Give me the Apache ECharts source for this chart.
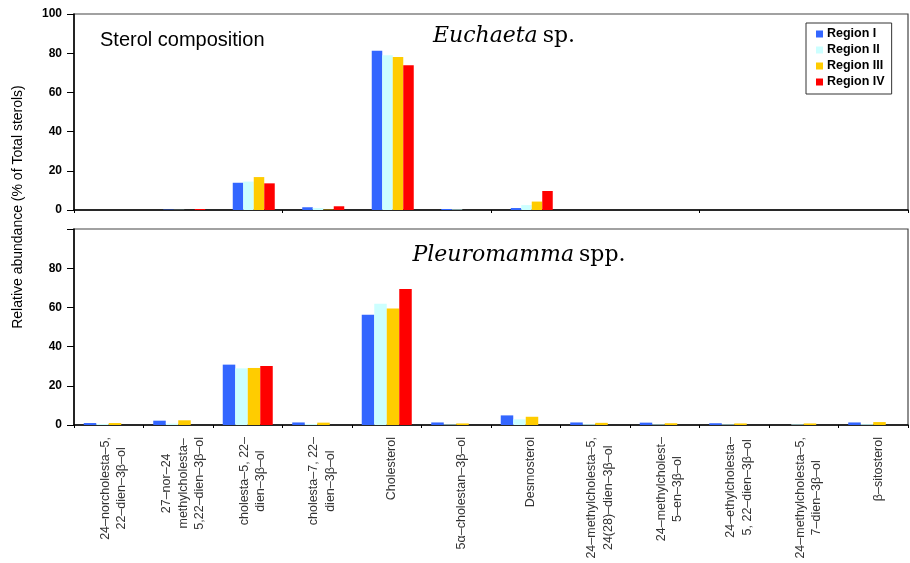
<!DOCTYPE html>
<html>
<head>
<meta charset="utf-8">
<script src="https://cdn.jsdelivr.net/npm/echarts@6/dist/echarts.min.js"></script>
<style>html,body{margin:0;padding:0;background:#fff}#c{width:910px;height:563px}</style>
</head>
<body>
<div id="c"></div>
<script>
const categories = [
  '24–norcholesta–5,\n22–dien–3β–ol',
  '27–nor–24\nmethylcholesta–\n5,22–dien–3β–ol',
  'cholesta–5, 22–\ndien–3β–ol',
  'cholesta–7, 22–\ndien–3β–ol',
  'Cholesterol',
  '5α–cholestan–3β–ol',
  'Desmosterol',
  '24–methylcholesta–5,\n24(28)–dien–3β–ol',
  '24–methylcholest–\n5–en–3β–ol',
  '24–ethylcholesta–\n5, 22–dien–3β–ol',
  '24–methylcholesta–5,\n7–dien–3β–ol',
  'β–sitosterol'
];
const regions = ['Region I', 'Region II', 'Region III', 'Region IV'];
const colors = ['#3366FF', '#CCFFFF', '#FFCC00', '#FF0000'];

// Euchaeta sp.
const euchaetaI   = [0, 0.2, 13.9, 1.4, 81.3, 0.5, 1.0, 0, 0, 0, 0, 0];
const euchaetaII  = [0, 0.1, 14.5, 1.0, 78.9, 0.3, 2.5, 0, 0, 0, 0, 0];
const euchaetaIII = [0, 0, 16.8, 0.2, 78.0, 0, 4.3, 0, 0, 0, 0, 0];
const euchaetaIV  = [0, 0.5, 13.6, 1.9, 73.8, 0, 9.7, 0, 0, 0, 0, 0];

// Pleuromamma spp.
const pleuroI   = [1.0, 2.2, 30.8, 1.3, 56.2, 1.3, 4.9, 1.3, 1.2, 0.9, 0, 1.3];
const pleuroII  = [0.5, 0.7, 28.9, 0.5, 61.8, 0.3, 2.9, 0.4, 0.3, 0.3, 0.3, 0.4];
const pleuroIII = [1.0, 2.4, 29.1, 1.2, 59.4, 0.8, 4.2, 1.1, 0.9, 0.8, 0.8, 1.5];
const pleuroIV  = [0, 0, 30.1, 0, 69.4, 0, 0, 0, 0, 0, 0, 0];

const topData = [euchaetaI, euchaetaII, euchaetaIII, euchaetaIV];
const botData = [pleuroI, pleuroII, pleuroIII, pleuroIV];

const chart = echarts.init(document.getElementById('c'), null, {renderer: 'canvas'});

const yLabel = {color: '#000', fontWeight: 'bold', fontSize: 12, fontFamily: 'Liberation Sans, Arial', margin: 12};
const yAxisCommon = {
  type: 'value', min: 0, max: 100, interval: 20,
  axisLine: {show: true, lineStyle: {color: '#000', width: 1.5}},
  axisTick: {show: true, length: 7, lineStyle: {color: '#000'}},
  splitLine: {show: false},
  axisLabel: yLabel
};
const xAxisCommon = {
  type: 'category', data: categories,
  axisLine: {show: true, lineStyle: {color: '#000', width: 1.5}},
  axisTick: {show: true, length: 3, alignWithLabel: false, lineStyle: {color: '#000'}},
  splitLine: {show: false}
};

const series = [];
// spacer to reproduce the right-shifted bar groups of the upper panel
series.push({type: 'bar', name: 'spacer', xAxisIndex: 0, yAxisIndex: 0, barWidth: 12, barGap: '0%',
  data: categories.map(() => '-'), silent: true, itemStyle: {color: 'transparent'}});
topData.forEach((d, i) => series.push({
  type: 'bar', name: regions[i], xAxisIndex: 0, yAxisIndex: 0, data: d,
  barWidth: 10.5, barGap: '0%', itemStyle: {color: colors[i]}, silent: true
}));
botData.forEach((d, i) => series.push({
  type: 'bar', name: regions[i], xAxisIndex: 1, yAxisIndex: 1, data: d,
  barWidth: 12.5, barGap: '0%', itemStyle: {color: colors[i]}, silent: true
}));

const serif = 'DejaVu Serif, Liberation Serif, serif';

chart.setOption({
  animation: false,
  backgroundColor: '#fff',
  grid: [
    {left: 74, right: 2, top: 14, height: 196, show: true, borderColor: '#444', borderWidth: 1.2, backgroundColor: 'transparent'},
    {left: 74, right: 2, top: 229, height: 196, show: true, borderColor: '#444', borderWidth: 1.2, backgroundColor: 'transparent'}
  ],
  xAxis: [
    Object.assign({}, xAxisCommon, {gridIndex: 0, axisLabel: {show: false}}),
    Object.assign({}, xAxisCommon, {gridIndex: 1, axisLabel: {
      show: true, interval: 0, rotate: 90, margin: 12, color: '#333', fontSize: 12.5,
      lineHeight: 16.5, fontFamily: 'Liberation Sans, Arial', padding: [10, 0, 0, 0],
      formatter: v => v.split('\n').map(l => '{c|' + l + '}').join('\n'),
      rich: {c: {align: 'center', fontSize: 12.5, lineHeight: 16.5, color: '#333', fontFamily: 'Liberation Sans, Arial'}}
    }})
  ],
  yAxis: [
    Object.assign({}, yAxisCommon, {gridIndex: 0}),
    Object.assign({}, yAxisCommon, {gridIndex: 1, axisLabel: Object.assign({}, yLabel, {
      formatter: v => (v === 100 ? '' : String(v))
    })})
  ],
  legend: {
    data: regions.map((r, i) => ({name: r, itemStyle: {color: colors[i]}})),
    orient: 'vertical', left: 806, top: 23,
    itemWidth: 7, itemHeight: 7, itemGap: 2,
    icon: 'rect',
    backgroundColor: '#fff',
    borderColor: '#333', borderWidth: 1,
    padding: [4, 7, 5, 10],
    textStyle: {color: '#000', fontWeight: 'bold', fontSize: 12.5, lineHeight: 14, fontFamily: 'Liberation Sans, Arial', padding: [0, 0, 0, -1]}
  },
  title: [
    {text: '{i|Euchaeta} {n|sp.}', left: 499, top: 31, textAlign: 'center', textVerticalAlign: 'middle',
      textStyle: {fontWeight: 'normal', rich: {
        i: {fontFamily: serif, fontStyle: 'italic', fontWeight: 'normal', fontSize: 22, color: '#000'},
        n: {fontFamily: serif, fontWeight: 'normal', fontSize: 22, color: '#000'}
      }}},
    {text: '{i|Pleuromamma} {n|spp.}', left: 514, top: 250, textAlign: 'center', textVerticalAlign: 'middle',
      textStyle: {fontWeight: 'normal', rich: {
        i: {fontFamily: serif, fontStyle: 'italic', fontWeight: 'normal', fontSize: 22, color: '#000'},
        n: {fontFamily: serif, fontWeight: 'normal', fontSize: 22, color: '#000'}
      }}}
  ],
  graphic: [
    {type: 'text', left: 100, top: 30, style: {text: 'Sterol composition', font: '20px "Liberation Sans", Arial', fill: '#000'}},
    {type: 'text', x: 18, y: 207, rotation: Math.PI / 2,
      style: {text: 'Relative abundance (% of Total sterols)', font: '14px "Liberation Sans", Arial', fill: '#000',
        textAlign: 'center', textVerticalAlign: 'middle'}}
  ],
  series: series
});
</script>
</body>
</html>
